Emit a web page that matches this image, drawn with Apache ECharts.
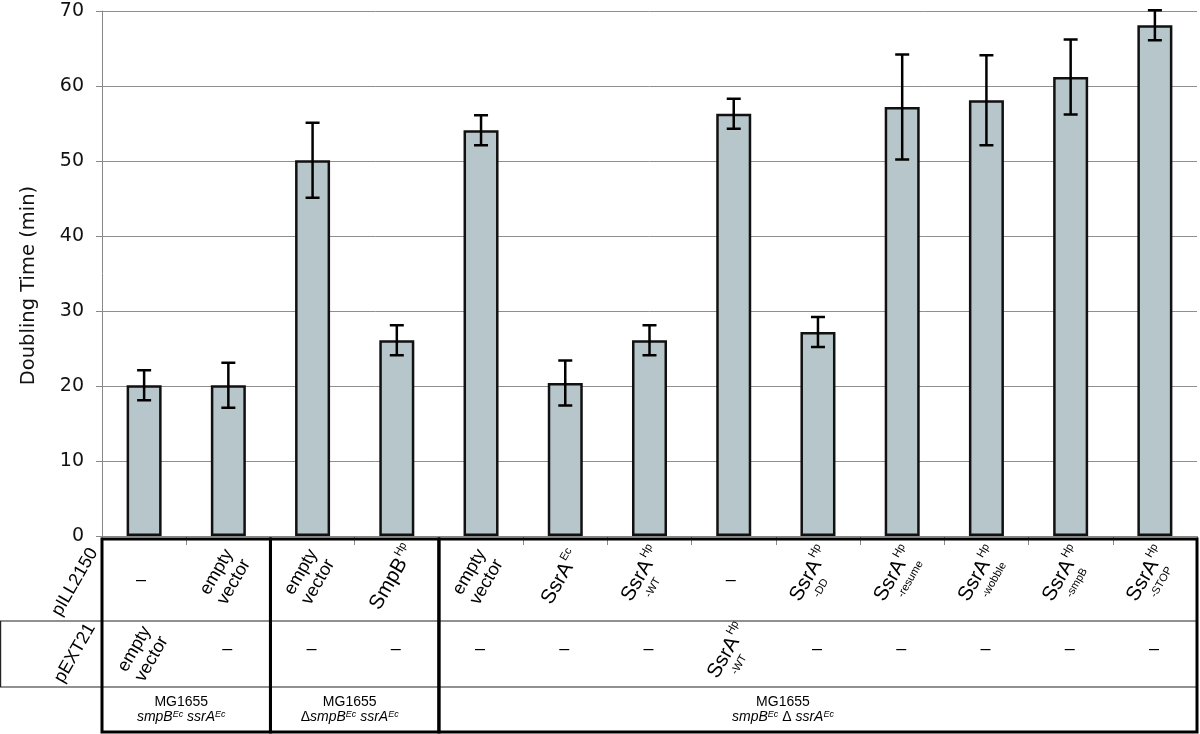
<!DOCTYPE html>
<html><head><meta charset="utf-8">
<script src="https://cdn.jsdelivr.net/npm/echarts@6/dist/echarts.min.js"></script>
<style>html,body{margin:0;padding:0;background:#fff}#c{width:1200px;height:734px}</style>
</head><body><div id="c"></div>
<script>
// ---------- data ----------
const categories = ['1','2','3','4','5','6','7','8','9','10','11','12','13'];
const pILL2150 = ['–','empty vector','empty vector','SmpB^Hp','empty vector','SsrA^Ec','SsrA^Hp_-WT','–','SsrA^Hp_-DD','SsrA^Hp_-resume','SsrA^Hp_-wobble','SsrA^Hp_-smpB','SsrA^Hp_-STOP'];
const pEXT21 = ['empty vector','–','–','–','–','–','–','SsrA^Hp_-WT','–','–','–','–','–'];
const doublingTime = [20.1,20.1,50.1,26.1,54.1,20.4,26.1,56.3,27.2,57.2,58.1,61.2,68.1];
const errorSD = [2.0,3.0,5.0,2.0,2.0,3.0,2.0,2.0,2.0,7.0,6.0,5.0,2.0];
const strainNames = ['MG1655','MG1655','MG1655'];
const strainGenotypes = ['smpB^Ec ssrA^Ec','ΔsmpB^Ec ssrA^Ec','smpB^Ec Δ ssrA^Ec'];
const strainFirst = [0,2,4];
const strainLast = [1,3,12];
const rowHeaders = ['pILL2150','pEXT21'];
const yMin = 0, yMax = 70, yStep = 10;
const yName = 'Doubling Time (min)';

// ---------- layout / style ----------
const FF = '"Liberation Sans", Arial, sans-serif';
const ROT = 60 * Math.PI / 180;
const L = {top:3, r1:85, r2:151, bottom:196, row1Text:41, row1Dash:44, row2Text:118, row2Dash:113, strain1:166, strain2:181};
const strainLabelShift = [-5, -5, -35];
const ctx = document.createElement('canvas').getContext('2d');
function tw(t, size, italic){ ctx.font = (italic?'italic ':'') + size + 'px ' + FF; return ctx.measureText(t).width; }

function cellLabel(label, cx, cy, dashY){
  if (label === '–') {
    return {type:'text', x:cx, y:dashY, style:{text:'–', fontSize:18, fontFamily:FF, fill:'#000', align:'center', verticalAlign:'middle'}};
  }
  if (label.indexOf('^') < 0) {
    return {type:'text', x:cx, y:cy, rotation:ROT, style:{text:label.split(' ').join('\n'), fontSize:18, lineHeight:20, fontFamily:FF, fill:'#000', align:'center', verticalAlign:'middle'}};
  }
  const m = label.match(/^([^\^_]+)(?:\^([^_]+))?(?:_(.+))?$/);
  const base = m[1], sup = m[2] || '', sub = m[3] || '';
  const bs = 20.5, ss = 11;
  const wb = tw(base, bs), ws = tw(sup, ss), wsub = tw(sub, ss);
  const subX = wb * 0.3, subY = 17, supY = -7;
  const xmax = Math.max(wb + 1 + ws, sub ? subX + wsub : 0);
  const ymin = -bs * 0.5, ymax = sub ? subY + ss * 0.5 : bs * 0.5;
  let ox = -xmax / 2, oy = -(ymin + ymax) / 2;
  if (!sub) { ox -= 1; oy -= 1; }
  const ch = [
    {type:'text', x:ox, y:oy, style:{text:base, fontSize:bs, fontFamily:FF, fill:'#000', align:'left', verticalAlign:'middle'}}
  ];
  if (sup) ch.push({type:'text', x:ox + wb + 1, y:oy + supY, style:{text:sup, fontSize:ss, fontFamily:FF, fill:'#000', align:'left', verticalAlign:'middle'}});
  if (sub) ch.push({type:'text', x:ox + subX, y:oy + subY, style:{text:sub, fontSize:ss, fontFamily:FF, fill:'#000', align:'left', verticalAlign:'middle'}});
  return {type:'group', x:cx, y:cy, rotation:ROT, children:ch};
}

function richGenotype(str){
  return str.split(/(\^\w+|Δ)/).filter(s => s !== '').map(s =>
    s[0] === '^' ? '{s|' + s.slice(1) + '}' : (s === 'Δ' ? '{n|Δ}' : '{i|' + s + '}')).join('');
}

const chart = echarts.init(document.getElementById('c'), null, {renderer:'canvas'});
chart.setOption({
  animation:false,
  backgroundColor:'#fff',
  grid:{left:102, right:3, top:11, bottom:198, containLabel:false},
  xAxis:{type:'category', data:categories,
    axisLine:{show:true, lineStyle:{color:'#888', width:1}},
    axisTick:{show:true, length:9, lineStyle:{color:'#888', width:1}},
    axisLabel:{show:false}, splitLine:{show:false}},
  yAxis:{type:'value', min:yMin, max:yMax, interval:yStep,
    name:yName, nameLocation:'middle', nameGap:63,
    nameTextStyle:{fontSize:19.5, fontFamily:'"DejaVu Sans", Verdana, sans-serif', color:'#111', padding:[0,24,0,0]},
    axisLine:{show:true, lineStyle:{color:'#888', width:1}},
    axisTick:{show:true, length:6, lineStyle:{color:'#888', width:1}},
    axisLabel:{fontSize:19, fontFamily:'"DejaVu Sans", Verdana, sans-serif', color:'#111', margin:18},
    splitLine:{show:true, lineStyle:{color:'#8f8f8f', width:1}}},
  series:[
    {type:'bar', data:doublingTime, barWidth:35, z:2,
      itemStyle:{color:'#b6c6ca', borderColor:'#111', borderWidth:2.5}},
    {type:'custom', z:3, clip:false,
      data:doublingTime.map((v,i)=>[i, v - errorSD[i], v + errorSD[i]]),
      encode:{x:0, y:[1,2]},
      renderItem:function(params, api){
        const x = api.value(0);
        const lo = api.coord([x, api.value(1)]), hi = api.coord([x, api.value(2)]);
        const cap = 7, st = {stroke:'#000', lineWidth:2.5};
        return {type:'group', children:[
          {type:'line', shape:{x1:lo[0], y1:lo[1], x2:hi[0], y2:hi[1]}, style:st},
          {type:'line', shape:{x1:lo[0]-cap, y1:lo[1], x2:lo[0]+cap, y2:lo[1]}, style:st},
          {type:'line', shape:{x1:hi[0]-cap, y1:hi[1], x2:hi[0]+cap, y2:hi[1]}, style:st}
        ]};
      }},
    // table frame: row lines and row headers
    {type:'custom', z:4, clip:false, data:[[0,0]], encode:{x:0,y:1},
      renderItem:function(params, api){
        const cs = params.coordSys;
        const y0 = api.coord([0,0])[1];
        const right = cs.x + cs.width;
        const st = {stroke:'#222', lineWidth:1.2};
        return {type:'group', children:[
          {type:'line', shape:{x1:0, y1:y0+L.r1, x2:right, y2:y0+L.r1}, style:st},
          {type:'line', shape:{x1:0, y1:y0+L.r2, x2:right, y2:y0+L.r2}, style:st},
          {type:'line', shape:{x1:0.6, y1:y0+L.r1, x2:0.6, y2:y0+L.r2}, style:st},
          {type:'text', x:cs.x-27, y:y0+46, rotation:ROT, style:{text:rowHeaders[0], fontSize:18, fontFamily:FF, fill:'#000', align:'center', verticalAlign:'middle'}},
          {type:'text', x:cs.x-27, y:y0+117, rotation:ROT, style:{text:rowHeaders[1], fontSize:18, fontFamily:FF, fill:'#000', align:'center', verticalAlign:'middle'}}
        ]};
      }},
    // table cells
    {type:'custom', z:5, clip:false, data:categories.map((c,i)=>[i,0]), encode:{x:0,y:1},
      renderItem:function(params, api){
        const i = api.value(0);
        const p = api.coord([i,0]);
        const cx = p[0] - 3, y0 = p[1];
        return {type:'group', children:[
          cellLabel(pILL2150[i], cx, y0 + L.row1Text, y0 + L.row1Dash),
          cellLabel(pEXT21[i], cx + 2, y0 + L.row2Text, y0 + L.row2Dash)
        ]};
      }},
    // strain groups
    {type:'custom', z:6, clip:false, data:strainFirst.map((f,i)=>[f, strainLast[i], i]), encode:{x:[0,1]},
      renderItem:function(params, api){
        const g = api.value(2);
        const band = api.size([1,0])[0];
        const a = api.coord([api.value(0), 0]), b = api.coord([api.value(1), 0]);
        const xl = a[0] - band/2, xr = b[0] + band/2, y0 = a[1];
        const cx = (xl + xr)/2 + strainLabelShift[g];
        return {type:'group', children:[
          {type:'rect', shape:{x:xl, y:y0+L.top, width:xr-xl, height:L.bottom-L.top},
            style:{fill:null, stroke:'#000', lineWidth:3}},
          {type:'text', x:cx, y:y0+L.strain1, style:{text:strainNames[g], fontSize:14, fontFamily:FF, fill:'#000', align:'center', verticalAlign:'middle'}},
          {type:'text', x:cx, y:y0+L.strain2, style:{text:richGenotype(strainGenotypes[g]), align:'center', verticalAlign:'middle',
            rich:{
              i:{fontSize:14, fontStyle:'italic', fontFamily:FF, fill:'#000', lineHeight:15},
              n:{fontSize:14, fontFamily:FF, fill:'#000', lineHeight:15},
              s:{fontSize:9, fontStyle:'italic', fontFamily:FF, fill:'#000', verticalAlign:'top', lineHeight:15}
            }}}
        ]};
      }}
  ]
});
</script></body></html>
